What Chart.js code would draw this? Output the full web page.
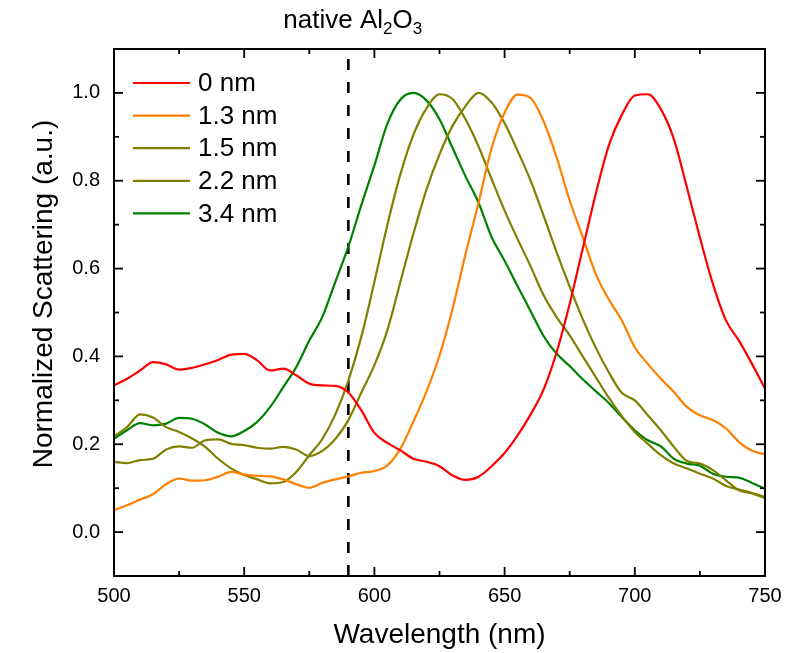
<!DOCTYPE html>
<html>
<head>
<meta charset="utf-8">
<script src="https://cdn.jsdelivr.net/npm/chart.js@4.4.1/dist/chart.umd.min.js"></script>
<style>
  html, body { margin: 0; padding: 0; background: #fff; }
  #wrap { width: 796px; height: 653px; }
</style>
</head>
<body>
<div id="wrap"><canvas id="spectra" width="796" height="653"></canvas></div>
<script>
// ─── Data ───────────────────────────────────────────────────

const WAVELENGTHS = [
  500, 505, 510, 515, 520, 525, 530, 535, 540, 545,
  550, 555, 560, 565, 570, 575, 580, 585, 590, 595,
  600, 605, 610, 615, 620, 625, 630, 635, 640, 645,
  650, 655, 660, 665, 670, 675, 680, 685, 690, 695,
  700, 705, 710, 715, 720, 725, 730, 735, 740, 745, 750,
];

// normalized scattering per oxide thickness
const SCAT_0NM = [
  0.334, 0.349, 0.368, 0.387, 0.382, 0.370, 0.374, 0.382, 0.392, 0.404,
  0.406, 0.391, 0.368, 0.372, 0.357, 0.338, 0.334, 0.333, 0.318, 0.277,
  0.226, 0.203, 0.186, 0.167, 0.160, 0.150, 0.129, 0.119, 0.126, 0.150,
  0.180, 0.220, 0.268, 0.325, 0.410, 0.520, 0.645, 0.770, 0.880, 0.950,
  0.994, 0.997, 0.963, 0.895, 0.785, 0.671, 0.565, 0.482, 0.436, 0.383, 0.327,
];
const SCAT_1_3NM = [
  0.050, 0.061, 0.074, 0.086, 0.109, 0.122, 0.117, 0.118, 0.126, 0.137,
  0.131, 0.128, 0.127, 0.120, 0.109, 0.101, 0.112, 0.120, 0.127, 0.135,
  0.139, 0.152, 0.190, 0.252, 0.320, 0.402, 0.508, 0.633, 0.750, 0.874,
  0.955, 0.996, 0.988, 0.935, 0.853, 0.755, 0.672, 0.588, 0.530, 0.482,
  0.421, 0.383, 0.349, 0.319, 0.285, 0.266, 0.255, 0.236, 0.205, 0.185, 0.177,
];
const SCAT_1_5NM = [
  0.160, 0.157, 0.164, 0.167, 0.188, 0.195, 0.192, 0.209, 0.211, 0.201,
  0.198, 0.192, 0.190, 0.194, 0.188, 0.173, 0.185, 0.212, 0.255, 0.318,
  0.380, 0.460, 0.570, 0.680, 0.780, 0.860, 0.925, 0.970, 1.000, 0.978,
  0.931, 0.868, 0.800, 0.720, 0.637, 0.559, 0.485, 0.420, 0.364, 0.317,
  0.300, 0.266, 0.232, 0.194, 0.162, 0.156, 0.141, 0.118, 0.095, 0.088, 0.077,
];
const SCAT_2_2NM = [
  0.218, 0.239, 0.268, 0.261, 0.239, 0.228, 0.213, 0.194, 0.167, 0.145,
  0.130, 0.120, 0.111, 0.114, 0.137, 0.175, 0.212, 0.268, 0.345, 0.445,
  0.570, 0.700, 0.815, 0.905, 0.965, 0.997, 0.986, 0.940, 0.878, 0.804,
  0.732, 0.667, 0.605, 0.539, 0.489, 0.448, 0.400, 0.353, 0.306, 0.264,
  0.228, 0.201, 0.175, 0.156, 0.145, 0.133, 0.122, 0.105, 0.097, 0.089, 0.080,
];
const SCAT_3_4NM = [
  0.213, 0.232, 0.248, 0.243, 0.247, 0.260, 0.258, 0.245, 0.226, 0.218,
  0.230, 0.251, 0.285, 0.330, 0.376, 0.436, 0.490, 0.570, 0.650, 0.745,
  0.835, 0.930, 0.985, 1.000, 0.983, 0.940, 0.875, 0.810, 0.750, 0.672,
  0.618, 0.560, 0.503, 0.446, 0.406, 0.378, 0.348, 0.321, 0.294, 0.262,
  0.232, 0.209, 0.195, 0.167, 0.156, 0.151, 0.133, 0.126, 0.124, 0.112, 0.099,
];

const SERIES_LABELS = ['0 nm', '1.3 nm', '1.5 nm', '2.2 nm', '3.4 nm'];
const SERIES_VALUES = [SCAT_0NM, SCAT_1_3NM, SCAT_1_5NM, SCAT_2_2NM, SCAT_3_4NM];
const SERIES_COLORS = ['#FF0000', '#FF8000', '#808000', '#808000', '#008000'];

// native oxide marker
const OXIDE_LINE_NM = 590;

const X_RANGE = [500, 750];
const Y_RANGE = [-0.1, 1.1];
const X_TICKS = [500, 550, 600, 650, 700, 750];
const X_MINOR = [525, 575, 625, 675, 725];
const Y_TICKS = [0.0, 0.2, 0.4, 0.6, 0.8, 1.0];
const Y_MINOR = [0.1, 0.3, 0.5, 0.7, 0.9];

const Y_TITLE = 'Normalized Scattering (a.u.)';
const FONT = "'Liberation Sans', Arial, sans-serif";

// ─── Frame, inward ticks, legend, labels ────────────────────

const decorPlugin = {
  id: 'decor',
  afterDatasetsDraw(chart) {
    const { ctx, chartArea: a, scales: { x, y } } = chart;
    ctx.save();
    ctx.strokeStyle = '#000';
    ctx.lineWidth = 2;
    ctx.strokeRect(a.left, a.top, a.right - a.left, a.bottom - a.top);

    const seg = (x1, y1, x2, y2) => {
      ctx.beginPath();
      ctx.moveTo(x1, y1);
      ctx.lineTo(x2, y2);
      ctx.stroke();
    };
    ctx.lineWidth = 1.8;
    const xMarks = X_TICKS.map(v => [v, 9]).concat(X_MINOR.map(v => [v, 5]));
    xMarks.forEach(([v, len]) => {
      const px = x.getPixelForValue(v);
      seg(px, a.bottom, px, a.bottom - len);
      seg(px, a.top, px, a.top + len);
    });
    const yMarks = Y_TICKS.map(v => [v, 9]).concat(Y_MINOR.map(v => [v, 5]));
    yMarks.forEach(([v, len]) => {
      const py = y.getPixelForValue(v);
      seg(a.left, py, a.left + len, py);
      seg(a.right, py, a.right - len, py);
    });

    // legend, top-left inside the plot
    ctx.font = `26px ${FONT}`;
    ctx.textBaseline = 'middle';
    ctx.fillStyle = '#000';
    chart.data.datasets.filter(d => !d.hideInLegend).forEach((d, i) => {
      const ly = a.top + 34 + i * 32.6;
      ctx.strokeStyle = d.borderColor;
      ctx.lineWidth = 2.2;
      seg(a.left + 19, ly, a.left + 76, ly);
      ctx.fillText(d.label, a.left + 84, ly + 1);
    });

    // "native Al2O3" over the dashed line
    const lx = x.getPixelForValue(OXIDE_LINE_NM) - 65;
    const parts = [['native Al', 26, 0], ['2', 17, 6], ['O', 26, 0], ['3', 17, 6]];
    let cx = lx;
    ctx.textBaseline = 'alphabetic';
    parts.forEach(([t, size, drop]) => {
      ctx.font = `${size}px ${FONT}`;
      ctx.fillText(t, cx, 28 + drop);
      cx += ctx.measureText(t).width;
    });

    // y axis title sits a little above the plot's middle
    ctx.font = `28px ${FONT}`;
    ctx.textAlign = 'center';
    ctx.translate(52, 294);
    ctx.rotate(-Math.PI / 2);
    ctx.fillText(Y_TITLE, 0, 0);
    ctx.restore();
  },
};

// ─── Chart ──────────────────────────────────────────────────

function buildDatasets() {
  const curves = SERIES_VALUES.map((vals, i) => ({
    label: SERIES_LABELS[i],
    data: WAVELENGTHS.map((w, j) => ({ x: w, y: vals[j] })),
    borderColor: SERIES_COLORS[i],
    borderWidth: 2.2,
    pointRadius: 0,
    cubicInterpolationMode: 'monotone',
    fill: false,
  }));
  curves.push({
    label: 'native oxide',
    hideInLegend: true,
    data: [{ x: OXIDE_LINE_NM, y: Y_RANGE[0] }, { x: OXIDE_LINE_NM, y: Y_RANGE[1] }],
    borderColor: '#000',
    borderWidth: 2.6,
    borderDash: [11, 12],
    pointRadius: 0,
  });
  return curves;
}

new Chart(document.getElementById('spectra'), {
  type: 'line',
  data: { datasets: buildDatasets() },
  options: {
    responsive: false,
    animation: false,
    devicePixelRatio: 1,
    layout: { padding: { top: 49, right: 31, left: 0, bottom: 0 } },
    plugins: { legend: { display: false }, tooltip: { enabled: false } },
    scales: {
      x: {
        type: 'linear',
        min: X_RANGE[0],
        max: X_RANGE[1],
        afterBuildTicks: s => { s.ticks = X_TICKS.map(v => ({ value: v })); },
        afterFit: s => { s.height = 77; },
        grid: { display: false, drawTicks: false },
        border: { display: false },
        ticks: {
          autoSkip: false,
          maxRotation: 0,
          padding: 8,
          color: '#000',
          font: { size: 20, family: FONT },
        },
        title: {
          display: true,
          text: 'Wavelength (nm)',
          color: '#000',
          font: { size: 28, family: FONT },
          padding: { top: 0, bottom: 1 },
        },
      },
      y: {
        type: 'linear',
        min: Y_RANGE[0],
        max: Y_RANGE[1],
        afterBuildTicks: s => { s.ticks = Y_TICKS.map(v => ({ value: v })); },
        afterFit: s => { s.width = 114; },
        grid: { display: false, drawTicks: false },
        border: { display: false },
        ticks: {
          padding: 14,
          color: '#000',
          font: { size: 20, family: FONT },
          callback: v => v.toFixed(1),
        },
        title: { display: false },
      },
    },
  },
  plugins: [decorPlugin],
});
</script>
</body>
</html>
